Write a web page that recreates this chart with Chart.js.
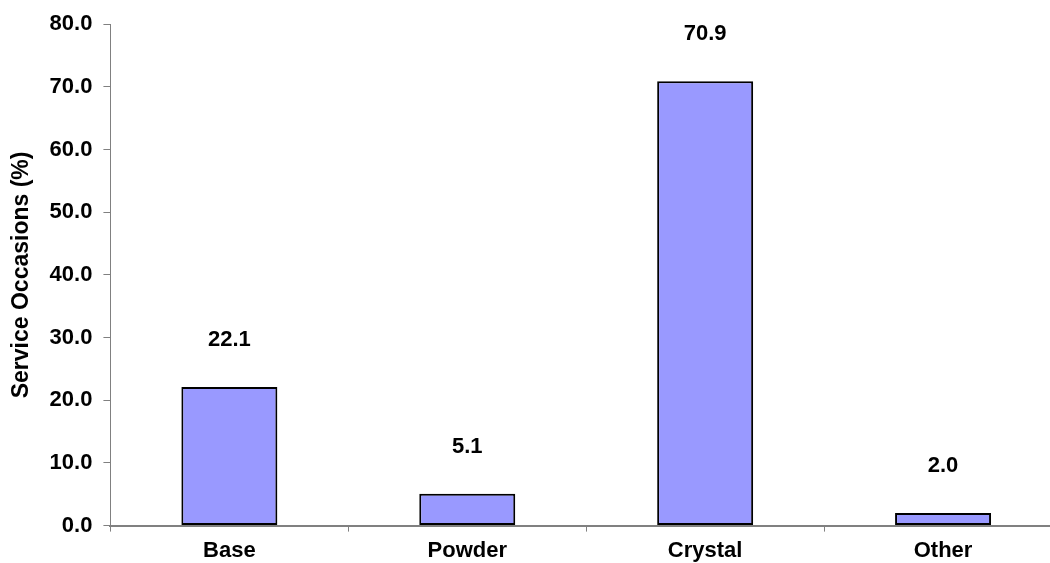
<!DOCTYPE html>
<html>
<head>
<meta charset="utf-8">
<script src="https://cdn.jsdelivr.net/npm/chart.js@4/dist/chart.umd.min.js"></script>
<style>
  html, body { margin: 0; padding: 0; background: #fff; overflow: hidden; }
  /* plot runs a little past the right and bottom edges, like the original export */
  #wrap { width: 1062px; height: 570px; position: relative; }
</style>
</head>
<body>
<div id="wrap"><canvas id="chart"></canvas></div>
<script>
// data
const categories = ['Base', 'Powder', 'Crystal', 'Other'];
const occasions = [22.1, 5.1, 70.9, 2.0];
const yTicks = [0, 10, 20, 30, 40, 50, 60, 70, 80];

const FONT = '"Liberation Sans", Arial, sans-serif';
const AXIS = '#808080';

// value labels floating above each bar
const valueLabels = {
  id: 'valueLabels',
  afterDatasetsDraw(chart) {
    const ctx = chart.ctx;
    const meta = chart.getDatasetMeta(0);
    ctx.save();
    ctx.font = 'bold 22px ' + FONT;
    ctx.fillStyle = '#000';
    ctx.textAlign = 'center';
    ctx.textBaseline = 'middle';
    meta.data.forEach((bar, i) => {
      ctx.fillText(occasions[i].toFixed(1), bar.x, bar.y - 47);
    });
    ctx.restore();
  }
};

new Chart(document.getElementById('chart'), {
  type: 'bar',
  data: {
    labels: categories,
    datasets: [{
      data: occasions,
      backgroundColor: '#9999FF',
      borderColor: '#000',
      borderWidth: 2,
      borderSkipped: false,
      barPercentage: 0.807,
      categoryPercentage: 0.5
    }]
  },
  options: {
    responsive: true,
    maintainAspectRatio: false,
    animation: false,
    layout: { padding: { top: 13, right: 0, left: 0, bottom: 0 } },
    plugins: {
      legend: { display: false },
      tooltip: { enabled: false }
    },
    scales: {
      x: {
        grid: { offset: true, drawOnChartArea: false, drawTicks: true, tickLength: 6, color: AXIS },
        border: { color: AXIS, width: 2 },
        ticks: { color: '#000', font: { family: FONT, size: 22, weight: 'bold' }, padding: 6 }
      },
      y: {
        min: 0,
        max: yTicks[yTicks.length - 1],
        afterBuildTicks(axis) { axis.ticks = yTicks.map(v => ({ value: v })); },
        grid: { drawOnChartArea: false, drawTicks: true, tickLength: 7, color: AXIS },
        border: { color: AXIS, width: 1 },
        ticks: {
          color: '#000',
          font: { family: FONT, size: 22, weight: 'bold' },
          padding: 11,
          callback: v => Number(v).toFixed(1)
        },
        title: {
          display: true,
          text: 'Service Occasions (%)',
          color: '#000',
          font: { family: FONT, size: 23, weight: 'bold' },
          padding: { top: 8, bottom: 3 }
        }
      }
    }
  },
  plugins: [valueLabels]
});
</script>
</body>
</html>
